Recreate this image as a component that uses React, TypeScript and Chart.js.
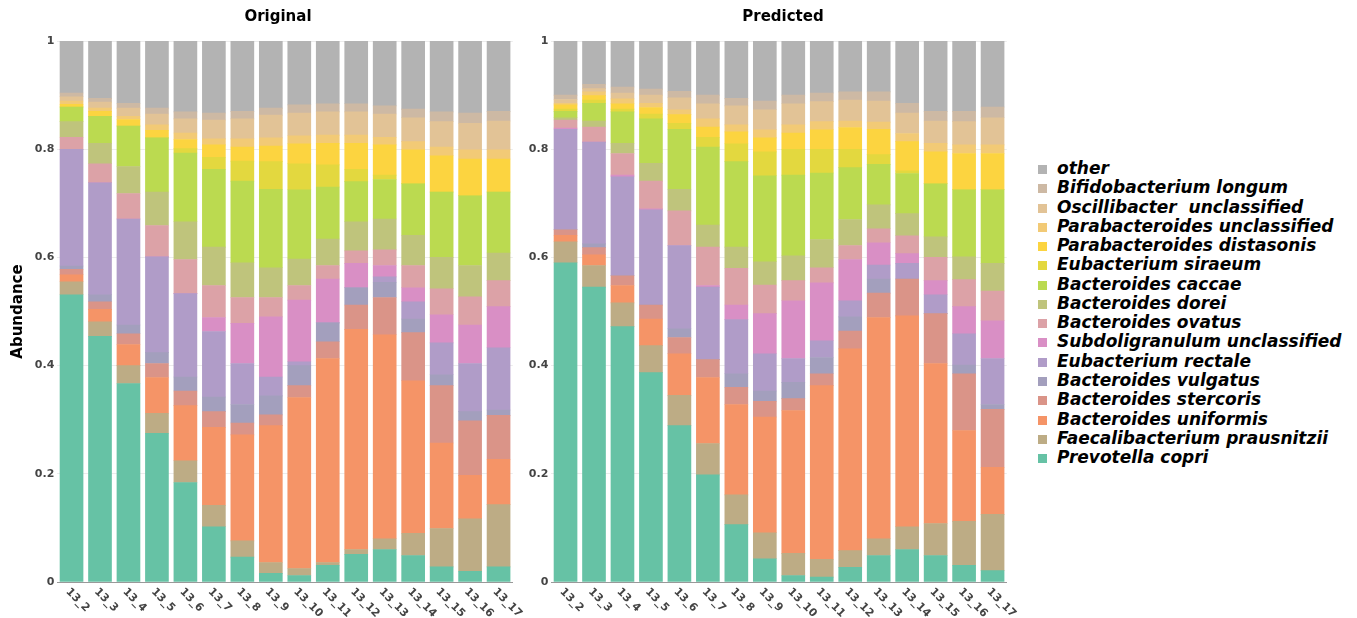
import React, { useEffect, useRef } from 'react';
import { Chart, registerables } from 'chart.js';

Chart.register(...registerables);

// ---------- DATA ----------
const categories = ['13_2', '13_3', '13_4', '13_5', '13_6', '13_7', '13_8', '13_9', '13_10', '13_11', '13_12', '13_13', '13_14', '13_15', '13_16', '13_17'];
const yTickLabels = ['0', '0.2', '0.4', '0.6', '0.8', '1'];
const panelTitles = ['Original', 'Predicted'];
const yAxisTitle = 'Abundance';

// stacking order: bottom -> top
const speciesNames = [
  'Prevotella copri',
  'Faecalibacterium prausnitzii',
  'Bacteroides uniformis',
  'Bacteroides stercoris',
  'Bacteroides vulgatus',
  'Eubacterium rectale',
  'Subdoligranulum unclassified',
  'Bacteroides ovatus',
  'Bacteroides dorei',
  'Bacteroides caccae',
  'Eubacterium siraeum',
  'Parabacteroides distasonis',
  'Parabacteroides unclassified',
  'Oscillibacter  unclassified',
  'Bifidobacterium longum',
  'other',
];
const speciesColors = [
  '#66c2a5', '#bdac85', '#f59467', '#da9488', '#a39fbd', '#b09cc8', '#d98fc5', '#dca2a7',
  '#bfc47c', '#bbda50', '#e3d83f', '#fcd440', '#f2ca76', '#e2c396', '#cdb9a4', '#b3b3b3',
];

// Original panel
const origPrevotella = [0.531, 0.454, 0.367, 0.275, 0.184, 0.102, 0.046, 0.016, 0.012, 0.031, 0.051, 0.060, 0.049, 0.028, 0.020, 0.028];
const origFaecali = [0.024, 0.027, 0.033, 0.037, 0.040, 0.040, 0.030, 0.020, 0.013, 0.005, 0.009, 0.020, 0.041, 0.071, 0.097, 0.115];
const origUniformis = [0.013, 0.023, 0.039, 0.066, 0.102, 0.144, 0.196, 0.253, 0.316, 0.377, 0.407, 0.377, 0.282, 0.158, 0.080, 0.084];
const origStercoris = [0.010, 0.014, 0.020, 0.026, 0.027, 0.029, 0.022, 0.020, 0.022, 0.031, 0.045, 0.069, 0.089, 0.106, 0.101, 0.081];
const origVulgatus = [0.006, 0.013, 0.016, 0.020, 0.026, 0.027, 0.034, 0.035, 0.037, 0.035, 0.032, 0.028, 0.025, 0.020, 0.017, 0.010];
const origRectale = [0.216, 0.207, 0.196, 0.177, 0.154, 0.121, 0.076, 0.035, 0.007, 0, 0, 0.010, 0.032, 0.059, 0.089, 0.115];
const origSubdol = [0, 0, 0, 0, 0, 0.026, 0.074, 0.111, 0.114, 0.081, 0.045, 0.021, 0.026, 0.052, 0.071, 0.076];
const origOvatus = [0.022, 0.035, 0.047, 0.058, 0.063, 0.059, 0.048, 0.036, 0.027, 0.025, 0.023, 0.029, 0.041, 0.048, 0.052, 0.048];
const origDorei = [0.029, 0.038, 0.050, 0.062, 0.070, 0.071, 0.064, 0.055, 0.049, 0.049, 0.054, 0.057, 0.056, 0.058, 0.058, 0.051];
const origCaccae = [0.027, 0.050, 0.075, 0.100, 0.127, 0.144, 0.151, 0.145, 0.128, 0.096, 0.074, 0.073, 0.095, 0.121, 0.129, 0.113];
const origSiraeum = [0, 0, 0, 0, 0.008, 0.022, 0.037, 0.051, 0.048, 0.041, 0.023, 0.008, 0, 0, 0, 0];
const origDistasonis = [0.005, 0.009, 0.012, 0.014, 0.017, 0.023, 0.026, 0.029, 0.037, 0.040, 0.048, 0.056, 0.063, 0.067, 0.068, 0.061];
const origParaUncl = [0.006, 0.006, 0.006, 0.010, 0.012, 0.011, 0.015, 0.015, 0.015, 0.015, 0.015, 0.014, 0.015, 0.016, 0.017, 0.017];
const origOscill = [0.008, 0.011, 0.015, 0.020, 0.026, 0.035, 0.037, 0.042, 0.042, 0.043, 0.043, 0.043, 0.044, 0.047, 0.049, 0.053];
const origBifido = [0.007, 0.007, 0.009, 0.011, 0.013, 0.013, 0.014, 0.013, 0.015, 0.015, 0.015, 0.015, 0.016, 0.018, 0.019, 0.018];
const origOther = [0.096, 0.106, 0.115, 0.124, 0.131, 0.133, 0.130, 0.124, 0.118, 0.116, 0.116, 0.120, 0.126, 0.131, 0.133, 0.130];

// Predicted panel
const predPrevotella = [0.590, 0.545, 0.472, 0.387, 0.289, 0.198, 0.106, 0.043, 0.012, 0.009, 0.027, 0.049, 0.060, 0.049, 0.031, 0.021];
const predFaecali = [0.039, 0.040, 0.044, 0.050, 0.056, 0.058, 0.055, 0.048, 0.041, 0.033, 0.031, 0.031, 0.042, 0.059, 0.081, 0.104];
const predUniformis = [0.012, 0.020, 0.032, 0.049, 0.077, 0.122, 0.167, 0.214, 0.264, 0.321, 0.373, 0.409, 0.390, 0.296, 0.168, 0.087];
const predStercoris = [0.010, 0.013, 0.018, 0.026, 0.030, 0.033, 0.032, 0.029, 0.022, 0.022, 0.033, 0.045, 0.068, 0.092, 0.105, 0.107];
const predVulgatus = [0, 0.007, 0, 0, 0.016, 0, 0.025, 0.019, 0.030, 0.030, 0.026, 0.026, 0, 0, 0.016, 0.009];
const predRectale = [0.186, 0.188, 0.183, 0.176, 0.154, 0.134, 0.100, 0.069, 0.044, 0.031, 0.030, 0.026, 0.029, 0.035, 0.058, 0.085];
const predSubdol = [0.002, 0, 0.003, 0.002, 0, 0.003, 0.027, 0.074, 0.107, 0.107, 0.076, 0.041, 0.018, 0.026, 0.050, 0.070];
const predOvatus = [0.015, 0.028, 0.040, 0.051, 0.064, 0.071, 0.068, 0.053, 0.037, 0.028, 0.026, 0.026, 0.033, 0.043, 0.050, 0.055];
const predDorei = [0.004, 0.011, 0.019, 0.033, 0.040, 0.041, 0.039, 0.043, 0.046, 0.052, 0.048, 0.044, 0.041, 0.038, 0.042, 0.051];
const predCaccae = [0.012, 0.033, 0.058, 0.082, 0.111, 0.144, 0.158, 0.159, 0.149, 0.123, 0.096, 0.075, 0.074, 0.098, 0.124, 0.136];
const predSiraeum = [0.004, 0.006, 0.005, 0.009, 0.011, 0.018, 0.033, 0.044, 0.048, 0.044, 0.034, 0.018, 0.005, 0, 0, 0];
const predDistasonis = [0.008, 0.008, 0.010, 0.012, 0.016, 0.019, 0.022, 0.026, 0.030, 0.036, 0.040, 0.047, 0.054, 0.059, 0.067, 0.067];
const predParaUncl = [0.003, 0.007, 0.009, 0.008, 0.009, 0.015, 0.013, 0.015, 0.015, 0.015, 0.012, 0.013, 0.015, 0.016, 0.016, 0.016];
const predOscill = [0.007, 0.006, 0.011, 0.015, 0.022, 0.028, 0.035, 0.037, 0.039, 0.037, 0.039, 0.039, 0.038, 0.041, 0.043, 0.050];
const predBifido = [0.008, 0.008, 0.011, 0.011, 0.012, 0.016, 0.014, 0.016, 0.016, 0.016, 0.015, 0.017, 0.018, 0.018, 0.019, 0.020];
const predOther = [0.100, 0.080, 0.085, 0.089, 0.093, 0.100, 0.106, 0.111, 0.100, 0.096, 0.094, 0.094, 0.115, 0.130, 0.130, 0.122];

const originalSeries = [
  origPrevotella, origFaecali, origUniformis, origStercoris, origVulgatus, origRectale, origSubdol, origOvatus,
  origDorei, origCaccae, origSiraeum, origDistasonis, origParaUncl, origOscill, origBifido, origOther,
];
const predictedSeries = [
  predPrevotella, predFaecali, predUniformis, predStercoris, predVulgatus, predRectale, predSubdol, predOvatus,
  predDorei, predCaccae, predSiraeum, predDistasonis, predParaUncl, predOscill, predBifido, predOther,
];

// ---------- STYLE ----------
const FONT = '"DejaVu Sans", Verdana, sans-serif';
const TICK_COLOR = '#444';

const rotatedXLabels = {
  id: 'rotatedXLabels',
  afterDraw(chart: any) {
    const xs = chart.scales.x;
    const ctx = chart.ctx;
    const bottom = chart.chartArea.bottom;
    ctx.save();
    ctx.font = `bold 11px ${FONT}`;
    ctx.fillStyle = TICK_COLOR;
    ctx.textAlign = 'left';
    ctx.textBaseline = 'middle';
    (chart.data.labels as string[]).forEach((lab, i) => {
      const x = xs.getPixelForValue(i);
      ctx.save();
      ctx.translate(x - 4, bottom + 8);
      ctx.rotate(Math.PI / 4);
      ctx.fillText(lab, 0, 0);
      ctx.restore();
    });
    ctx.restore();
  },
};

function buildConfig(series: number[][], showTitle: boolean, axisWidth: number, padRight: number): any {
  return {
    type: 'bar',
    data: {
      labels: categories,
      datasets: series.map((vals, i) => ({
        label: speciesNames[i],
        data: vals,
        backgroundColor: speciesColors[i],
        borderWidth: 0,
        inflateAmount: 0.3,
        barPercentage: 0.81,
        categoryPercentage: 1.0,
      })),
    },
    options: {
      responsive: false,
      animation: false,
      events: [],
      layout: { padding: { top: 41, bottom: 36, left: 0, right: padRight } },
      plugins: {
        legend: { display: false },
        tooltip: { enabled: false },
        title: { display: false },
      },
      scales: {
        x: {
          stacked: true,
          grid: { display: false, drawTicks: false },
          border: { display: true, color: '#999', width: 1 },
          ticks: { display: false },
          afterFit: (s: any) => { s.height = 0; },
        },
        y: {
          stacked: true,
          min: 0,
          max: 1,
          afterFit: (s: any) => { s.width = axisWidth; },
          grid: { color: '#ececec', lineWidth: 1, drawTicks: false },
          border: { display: false },
          ticks: {
            stepSize: 0.2,
            padding: 3,
            color: TICK_COLOR,
            font: { family: FONT, size: 11, weight: 'bold' },
            callback: (_v: any, idx: number) => yTickLabels[idx],
          },
          title: {
            display: showTitle,
            text: yAxisTitle,
            color: '#000',
            font: { family: FONT, size: 15, weight: 'bold' },
            padding: { top: 9, bottom: 0 },
          },
        },
      },
    },
    plugins: [rotatedXLabels],
  };
}

function Panel(props: { series: number[][]; left: number; width: number; showTitle: boolean; axisWidth: number; padRight: number }) {
  const ref = useRef<HTMLCanvasElement | null>(null);
  useEffect(() => {
    if (!ref.current) return;
    const chart = new Chart(ref.current, buildConfig(props.series, props.showTitle, props.axisWidth, props.padRight));
    return () => chart.destroy();
  }, []);
  return (
    <canvas
      ref={ref}
      width={props.width}
      height={618}
      style={{ position: 'absolute', left: props.left, top: 0, width: props.width, height: 618 }}
    />
  );
}

export default function App() {
  const legendOrder = speciesNames.map((n, i) => i).reverse();
  return (
    <div style={{ position: 'absolute', left: 0, top: 0, width: 1357, height: 618, background: '#fff', overflow: 'hidden' }}>
      <Panel series={originalSeries} left={0} width={532} showTitle={true} axisWidth={57.3} padRight={19.2} />
      <Panel series={predictedSeries} left={520} width={515} showTitle={false} axisWidth={31.3} padRight={28.2} />
      <div style={{ position: 'absolute', left: 178, width: 200, top: 7, lineHeight: '18px', textAlign: 'center', font: `bold 15px ${FONT}`, color: '#000' }}>
        {panelTitles[0]}
      </div>
      <div style={{ position: 'absolute', left: 683, width: 200, top: 7, lineHeight: '18px', textAlign: 'center', font: `bold 15px ${FONT}`, color: '#000' }}>
        {panelTitles[1]}
      </div>
      {legendOrder.map((idx, row) => (
        <div key={idx} style={{ position: 'absolute', left: 1038, top: 158 + row * 19.27, height: 20, display: 'flex', alignItems: 'center', whiteSpace: 'pre' }}>
          <span style={{ display: 'inline-block', width: 9, height: 9, background: speciesColors[idx], marginRight: 10, marginTop: 3 }} />
          <span style={{ font: `italic bold 17px ${FONT}`, color: '#000', lineHeight: '20px' }}>{speciesNames[idx]}</span>
        </div>
      ))}
    </div>
  );
}
